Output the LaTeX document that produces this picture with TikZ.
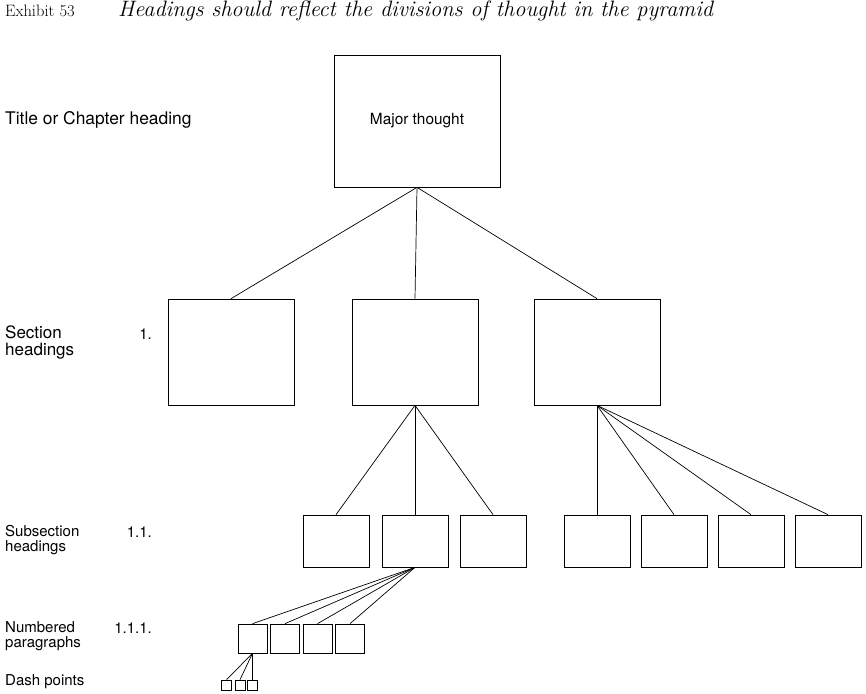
\documentclass[tikz,border=0pt]{standalone}
\usepackage{fontspec}
\setsansfont{TeX Gyre Heros}
\begin{document}
\begin{tikzpicture}
[x=1pt,y=-1pt,
  boxdecorate/.style={shape=rectangle,draw,line width=0.7pt,inner sep=0pt},
  labeldecorate/.style={anchor=west,align=left,inner sep=0pt,
    font=\sffamily\fontsize{15}{15}\selectfont},
  numberdecorate/.style={anchor=base east,inner sep=0pt,
    font=\sffamily\fontsize{15}{15}\selectfont},
  linedecorate/.style={line width=0.7pt}]
\useasboundingbox (0,0) rectangle (866,693);
%% heading of the exhibit
\node (exhibit) at (5,16.5) [anchor=base west,inner sep=0pt,
  font=\fontsize{16.5}{16.5}\selectfont] {Exhibit 53};
\node (heading) at (118,16.5) [anchor=base west,inner sep=0pt,
  font=\itshape\fontsize{22.3}{22.3}\selectfont]
  {Headings should reflect the divisions of thought in the pyramid};
%% labels on the left
\node (titlelabel) at (5,124) [labeldecorate,anchor=base west,
  font=\sffamily\fontsize{17.4}{17.4}\selectfont] {Title or Chapter heading};
\node (sectionlabel) at (5,342) [labeldecorate,
  font=\sffamily\fontsize{17}{17}\selectfont] {Section\\headings};
\node (subsectionlabel) at (5,540.5) [labeldecorate] {Subsection\\headings};
\node (paragraphlabel) at (5,636.5) [labeldecorate] {Numbered\\paragraphs};
\node (dashlabel) at (5,685) [labeldecorate,anchor=base west] {Dash points};
\foreach \nodename/\y/\number in {
  sectionnum/339/1., subsectionnum/537/1.1., paragraphnum/633/1.1.1.} {
  \node (\nodename) at (152,\y) [numberdecorate] {\number};
}
%% boxes
\node (major) at (417,121) [boxdecorate,minimum width=166pt,minimum height=132pt,
  font=\sffamily\fontsize{15.4}{15.4}\selectfont] {Major thought};
\foreach \nodename/\x in {sec1/231, sec2/415, sec3/597} {
  \node (\nodename) at (\x,352) [boxdecorate,minimum width=126pt,minimum height=106pt] {};
}
\foreach \nodename/\x in {
  sub1/336, sub2/415, sub3/493, sub4/597, sub5/674, sub6/751, sub7/828} {
  \node (\nodename) at (\x,541) [boxdecorate,minimum width=66pt,minimum height=52pt] {};
}
\foreach \nodename/\x in {par1/252.5, par2/285, par3/317.5, par4/350} {
  \node (\nodename) at (\x,638.5) [boxdecorate,minimum width=29pt,minimum height=29pt] {};
}
\foreach \nodename/\x in {dash1/226.5, dash2/240, dash3/252.5} {
  \node (\nodename) at (\x,685) [boxdecorate,minimum width=10pt,minimum height=10pt] {};
}
%% lines
\path[linedecorate]
\foreach \startnode/\endnode in {
  major/sec1, major/sec2, major/sec3,
  sec2/sub1, sec2/sub2, sec2/sub3,
  sec3/sub4, sec3/sub5, sec3/sub6, sec3/sub7,
  sub2/par1, sub2/par2, sub2/par3, sub2/par4,
  par1/dash1, par1/dash2, par1/dash3} {
  (\startnode.south) edge (\endnode.north)
};
\end{tikzpicture}
\end{document}
